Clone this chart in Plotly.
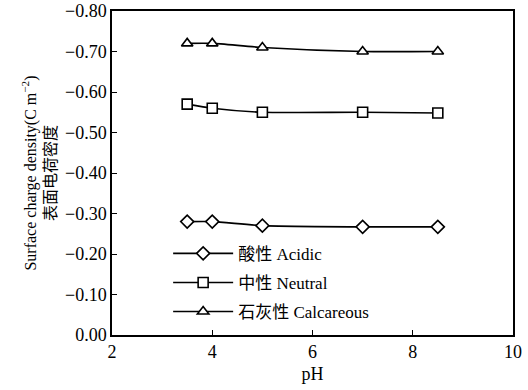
import plotly.graph_objects as go

ph = [3.5, 4, 5, 7, 8.5]
acidic = [-0.28, -0.28, -0.27, -0.267, -0.267]
neutral = [-0.57, -0.56, -0.55, -0.55, -0.548]
calcareous = [-0.72, -0.72, -0.71, -0.70, -0.70]
names = ["酸性 Acidic", "中性 Neutral", "石灰性 Calcareous"]
symbols = ["diamond", "square", "triangle-up"]
yticks = [0, -0.1, -0.2, -0.3, -0.4, -0.5, -0.6, -0.7, -0.8]

FONT = "Liberation Serif, Noto Sans CJK SC, serif"
TICKFONT = dict(family=FONT, size=18, color="black")

fig = go.Figure()
for i, (vals, name, sym) in enumerate(zip([acidic, neutral, calcareous], names, symbols)):
    fig.add_trace(go.Scatter(
        x=ph, y=vals, name=name, mode="lines+markers", legendgroup=f"g{i}",
        line=dict(color="black", width=1.6, shape="spline", smoothing=0.6),
        marker=dict(symbol=sym, size=10, color="white",
                    line=dict(color="black", width=1.6)),
    ))

fig.update_layout(
    width=528, height=390,
    margin=dict(l=112, r=15, t=11, b=55, autoexpand=False),
    paper_bgcolor="white", plot_bgcolor="white",
    font=dict(family=FONT, size=16, color="black"),
    legend=dict(x=0.14, y=0.016, xanchor="left", yanchor="bottom",
                bgcolor="rgba(0,0,0,0)", font=dict(family=FONT, size=17),
                tracegroupgap=4, itemwidth=60),
)
fig.update_xaxes(
    range=[2, 10], tickvals=[2, 4, 6, 8, 10], automargin=False,
    tickfont=TICKFONT, ticklabeloverflow="allow",
    showline=True, linecolor="black", linewidth=1.5, mirror=True,
    ticks="inside", ticklen=5, tickcolor="black", showgrid=False, zeroline=False,
    title=dict(text="pH", standoff=6, font=dict(family=FONT, size=18)),
)
fig.update_yaxes(
    range=[0, -0.8], tickvals=yticks, tickformat=".2f", automargin=False,
    tickfont=TICKFONT, ticklabeloverflow="allow",
    showline=True, linecolor="black", linewidth=1.5, mirror=True,
    ticks="inside", ticklen=5, tickcolor="black", showgrid=False, zeroline=False,
    title=dict(text="Surface charge density(C m<sup>−2</sup>)<br>表面电荷密度",
               standoff=4, font=dict(family=FONT, size=16)),
)
fig.write_html("out.html", config={"displayModeBar": False},
               post_script="document.body.style.margin='0';")
